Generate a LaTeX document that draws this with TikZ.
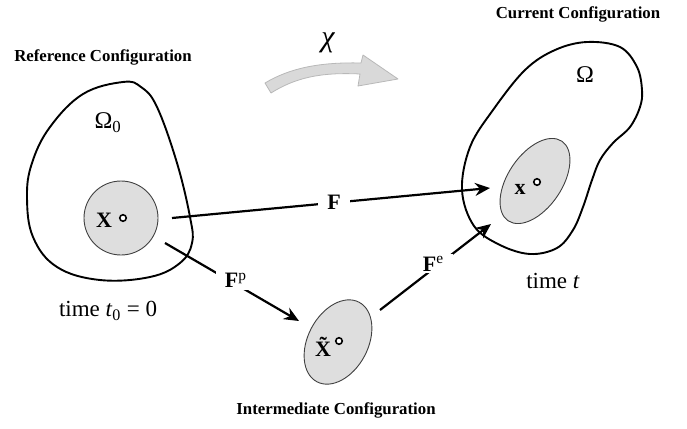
\documentclass[tikz,border=0pt]{standalone}
\usepackage{fontspec}
\setmainfont{Liberation Serif}
\usetikzlibrary{arrows.meta,shapes.geometric}
\begin{document}
\begin{tikzpicture}[x=1pt,y=-1pt,
  blob/.style={line width=1.9pt, line join=round},
  region/.style={draw=black!75, line width=0.9pt, fill=black!13, inner sep=0pt},
  conn/.style={line width=2.2pt, -{Stealth[length=15pt,width=13pt,inset=5pt]}},
  title/.style={font=\fontsize{16.8}{18}\selectfont\bfseries},
  sym/.style={font=\fontsize{24}{26}\selectfont},
  pt/.style={font=\fontsize{22}{24}\selectfont\bfseries, inner sep=0pt},
  flab/.style={font=\fontsize{22}{24}\selectfont, fill=white, inner xsep=9pt, inner ysep=2pt},
  timelab/.style={font=\fontsize{23}{26}\selectfont},
  dotc/.style={circle, draw, line width=1.6pt, inner sep=0pt, minimum size=6.5pt, fill=white}]
\useasboundingbox (0,0) rectangle (687,428);

% titles
\node[title] (tref) at (103,57) {Reference Configuration};
\node[title] (tcur) at (578,14) {Current Configuration};
\node[title] (tint) at (336,410) {Intermediate Configuration};

% chi arrow
\node[font=\fontsize{30}{32}\selectfont\itshape] (chi) at (328,43) {χ};
\path[fill=black!15, draw=black!28, line width=0.8pt, line join=round]
  (265,83) .. controls (290,68) and (320,62) .. (361,63)
  -- (363,55) -- (398,79) -- (358,86) -- (360,74)
  .. controls (320,72) and (295,78) .. (271,93) -- cycle;

% reference body
\draw[blob] plot[smooth cycle, tension=0.65] coordinates {
  (123,82) (83,94) (50,127) (32,163) (27,197) (33,237) (57,267) (100,280)
  (150,277) (180,263) (192,243) (190,217) (177,163) (157,107) (141,87)};
\node[sym] (om0) at (108,123) {Ω\textsubscript{0}};
\node[region, circle, minimum size=74pt] (refin) at (121,218) {};
\node[pt] (X) at (104,220) {X};
\node[dotc] (dX) at (123,218) {};
\node[timelab] (t0) at (108,311) {time \textit{t}\textsubscript{0} = 0};

% current body
\draw[blob] plot[smooth cycle, tension=0.6] coordinates {
  (587,42) (620,47) (637,67) (642,90) (640,107) (630,127) (613,143) (600,160)
  (592,180) (583,207) (573,230) (557,248) (530,254) (500,245) (474,226) (462,190)
  (470,147) (493,110) (525,70) (555,50)};
\node[sym] (om) at (585,75) {Ω};
\node[region, ellipse, minimum width=96pt, minimum height=54pt, rotate=56] (curin) at (535,181) {};
\node[pt] (x) at (520,189) {x};
\node[dotc] (dx) at (537,182) {};
\node[timelab] (tt) at (553,281) {time \textit{t}};

% intermediate body
\node[region, ellipse, minimum width=90pt, minimum height=60pt, rotate=62] (intin) at (338,342) {};
\node[pt] (Xt) at (323,347) {\~{X}};
\node[dotc] (dXt) at (339,341) {};

% connectors
\coordinate (fs) at (172,218);
\coordinate (fe) at (490,188);
\coordinate (ps) at (165,243);
\coordinate (pe) at (299,321);
\coordinate (es) at (380,310);
\coordinate (ee) at (491,224);
\draw[conn] (fs) -- node[flab, pos=0.51] (F) {\textbf{F}} (fe);
\draw[conn] (ps) -- node[flab, pos=0.52, xshift=1pt, yshift=3pt] (Fp) {\textbf{F}\textsuperscript{p}} (pe);
\draw[conn] (es) -- node[flab, pos=0.48, yshift=5pt] (Fe) {\textbf{F}\textsuperscript{e}} (ee);
\end{tikzpicture}
\end{document}
